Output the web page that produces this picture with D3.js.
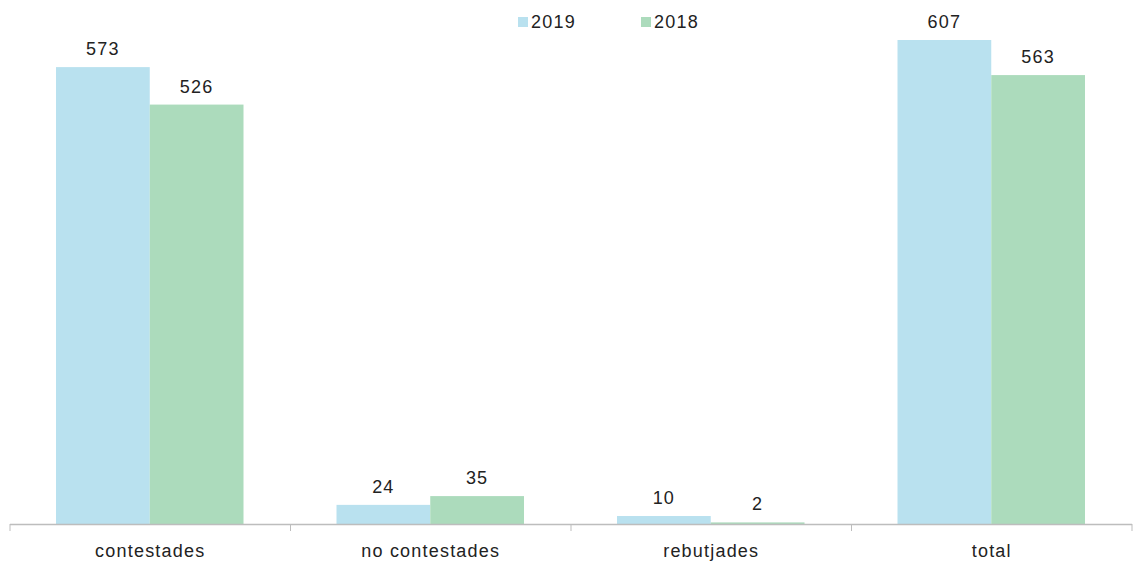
<!DOCTYPE html>
<html>
<head>
<meta charset="utf-8">
<script src="https://cdn.jsdelivr.net/npm/d3@7"></script>
<style>
  body { margin: 0; background: #fff; }
  text { font-family: "Liberation Sans", Arial, sans-serif; fill: #222; }
</style>
</head>
<body>
<svg id="chart" width="1142" height="565"></svg>
<script>
const categories = ["contestades", "no contestades", "rebutjades", "total"];
const seriesNames = ["2019", "2018"];
const values2019 = [573, 24, 10, 607];
const values2018 = [526, 35, 2, 563];
const colors = ["#b9e1ef", "#acdbbc"];

const svg = d3.select("#chart");
const margin = { top: 40, right: 10, bottom: 41, left: 10 };
const width = 1142, height = 565;
const baseY = height - margin.bottom;

const x = d3.scaleBand()
  .domain(categories)
  .range([margin.left, width - margin.right])
  .paddingInner(0)
  .paddingOuter(0);

const xs = d3.scaleBand()
  .domain(seriesNames)
  .range([46, x.bandwidth() - 47])
  .padding(0);

const y = d3.scaleLinear()
  .domain([0, d3.max(values2019.concat(values2018))])
  .range([baseY, margin.top]);

const data = categories.map((c, i) => ({
  cat: c,
  vals: [
    { key: "2019", v: values2019[i] },
    { key: "2018", v: values2018[i] },
  ],
}));

const gCat = svg.append("g")
  .selectAll("g")
  .data(data)
  .join("g")
  .attr("transform", (d) => `translate(${x(d.cat)},0)`);

gCat.selectAll("rect")
  .data((d) => d.vals)
  .join("rect")
  .attr("x", (d) => xs(d.key))
  .attr("width", xs.bandwidth())
  .attr("y", (d) => y(d.v))
  .attr("height", (d) => baseY - y(d.v))
  .attr("fill", (d, i) => colors[i]);

gCat.selectAll("text.val")
  .data((d) => d.vals)
  .join("text")
  .attr("class", "val")
  .attr("x", (d) => xs(d.key) + xs.bandwidth() / 2)
  .attr("y", (d) => y(d.v) - 12)
  .attr("text-anchor", "middle")
  .style("font-size", "18px")
  .style("letter-spacing", "1.2px")
  .text((d) => d.v);

// axis line and ticks
const axisG = svg.append("g");
axisG.append("line")
  .attr("x1", margin.left)
  .attr("x2", width - margin.right)
  .attr("y1", baseY + 0.5)
  .attr("y2", baseY + 0.5)
  .attr("stroke", "#bdbdbd")
  .attr("stroke-width", 1.5);

const tickXs = categories.map((c) => x(c)).concat([x.range()[1]]);
axisG.selectAll("line.tick")
  .data(tickXs)
  .join("line")
  .attr("class", "tick")
  .attr("x1", (d) => d)
  .attr("x2", (d) => d)
  .attr("y1", baseY)
  .attr("y2", baseY + 7)
  .attr("stroke", "#bdbdbd");

axisG.selectAll("text.cat")
  .data(categories)
  .join("text")
  .attr("class", "cat")
  .attr("x", (d) => x(d) + x.bandwidth() / 2)
  .attr("y", baseY + 33)
  .attr("text-anchor", "middle")
  .style("font-size", "18px")
  .style("letter-spacing", "1.2px")
  .text((d) => d);

// legend
const legendX = [518, 641];
const legend = svg.append("g")
  .selectAll("g")
  .data(seriesNames)
  .join("g")
  .attr("transform", (d, i) => `translate(${legendX[i]},17)`);

legend.append("rect")
  .attr("width", 10)
  .attr("height", 10)
  .attr("fill", (d, i) => colors[i]);

legend.append("text")
  .attr("x", 13)
  .attr("y", 11)
  .style("font-size", "18px")
  .style("letter-spacing", "1.2px")
  .text((d) => d);
</script>
</body>
</html>
